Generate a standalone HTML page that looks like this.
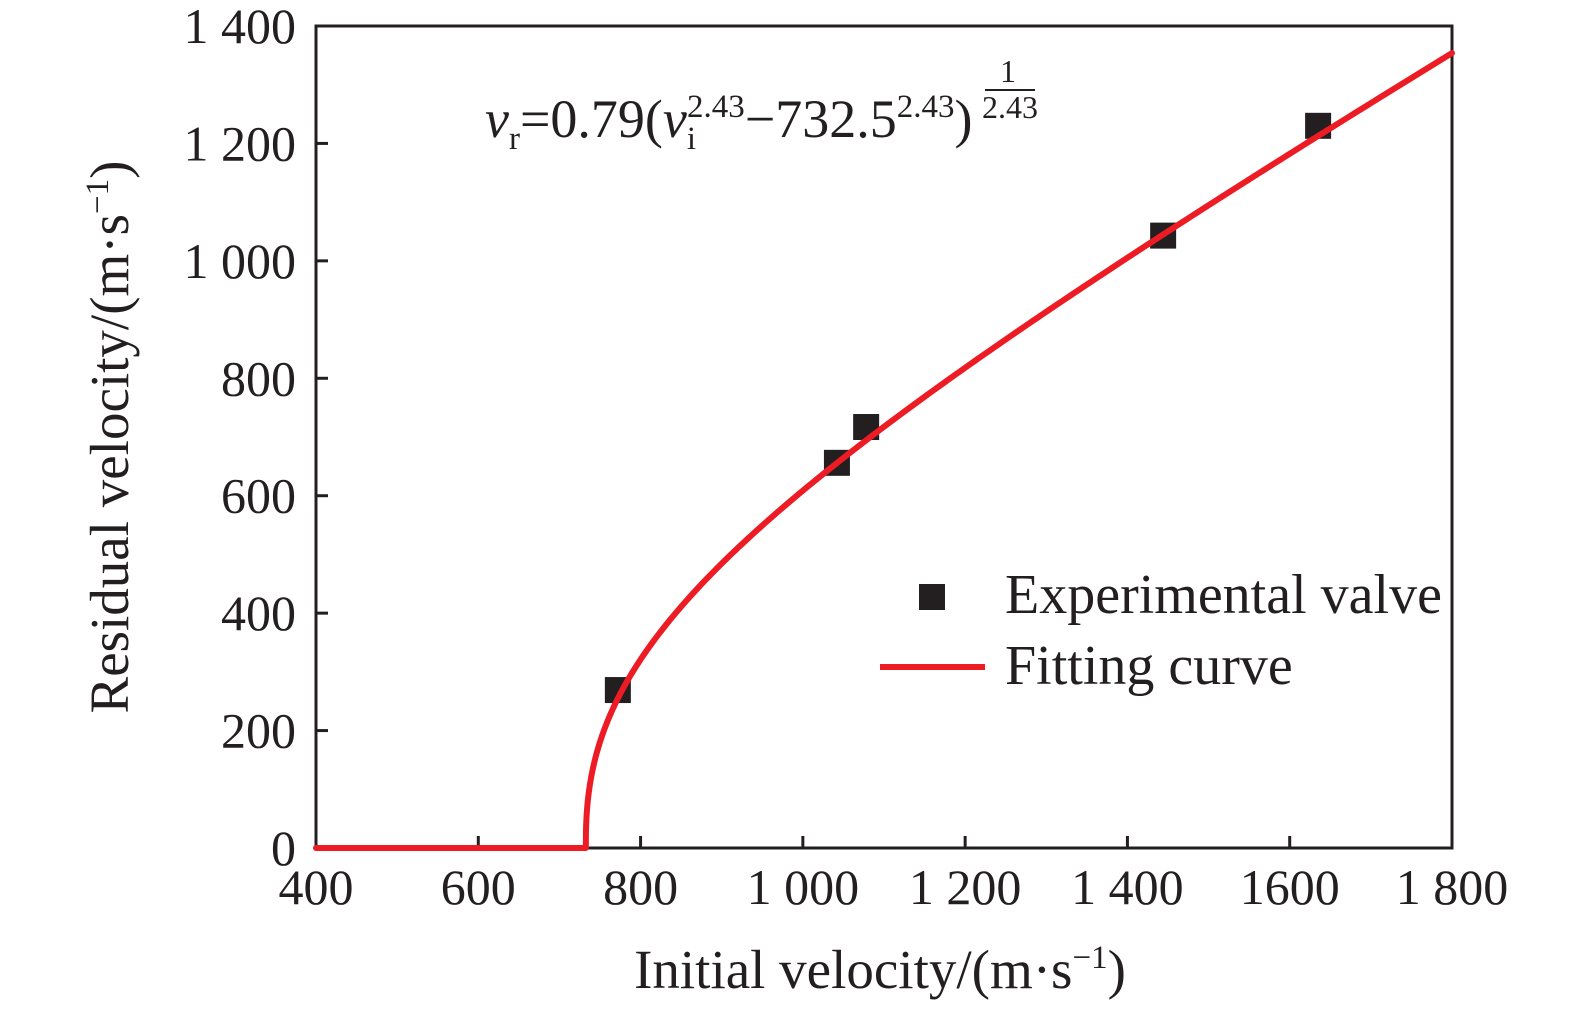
<!DOCTYPE html>
<html><head><meta charset="utf-8"><style>
html,body{margin:0;padding:0;background:#fff;}
svg{display:block;font-family:"Liberation Serif",serif;}
</style></head><body>
<svg id="chart" width="1575" height="1010" viewBox="0 0 1575 1010" xmlns="http://www.w3.org/2000/svg">
<g id="grid"></g>
<rect x="316" y="26" width="1136" height="822" fill="none" stroke="#231f20" stroke-width="3"/>
<g id="ticks"></g>
<g id="marks"></g>
<text x="485" y="137" font-size="54" fill="#231f20"><tspan font-style="italic">v</tspan><tspan font-size="33" dy="12">r</tspan><tspan dy="-12">=0.79(</tspan><tspan font-style="italic">v</tspan><tspan font-size="33" dy="12">i</tspan><tspan font-size="33" dx="-9" dy="-32">2.43</tspan><tspan dy="20">−732.5</tspan><tspan font-size="33" dy="-20">2.43</tspan><tspan dy="20">)</tspan></text>
<text x="1008" y="82" font-size="32" fill="#231f20" text-anchor="middle">1</text>
<line x1="985" y1="90" x2="1035" y2="90" stroke="#231f20" stroke-width="2"/>
<text x="1010" y="118" font-size="32" fill="#231f20" text-anchor="middle">2.43</text>
<text x="880" y="988" font-size="55" text-anchor="middle" fill="#231f20">Initial velocity/(m·s<tspan font-size="33" dy="-20">−1</tspan><tspan dy="20">)</tspan></text>
<text transform="translate(128,437) rotate(-90)" font-size="55" text-anchor="middle" fill="#231f20">Residual velocity/(m·s<tspan font-size="33" dy="-20">−1</tspan><tspan dy="20">)</tspan></text>
<g>
<rect x="919" y="584" width="26" height="26" fill="#231f20"/>
<text x="1005" y="613" font-size="56" fill="#231f20">Experimental valve</text>
<line x1="880" y1="667" x2="985" y2="667" stroke="#ed1c24" stroke-width="6"/>
<text x="1005" y="684" font-size="56" fill="#231f20">Fitting curve</text>
</g>
</svg>
<script>
const xTicks=[400,600,800,1000,1200,1400,1600,1800];
const xTickLabels=["400","600","800","1 000","1 200","1 400","1600","1 800"];
const yTicks=[0,200,400,600,800,1000,1200,1400];
const yTickLabels=["0","200","400","600","800","1 000","1 200","1 400"];
const expX=[772,1042,1078,1444,1635];
const expY=[269,656,717,1043,1230];
const fitA=[0.79];
const fitV0=[732.5];
const fitP=[2.43];
const NS="http://www.w3.org/2000/svg";
const X=v=>316+(v-400)*(1136/1400);
const Y=v=>848-v*(822/1400);
const ticks=document.getElementById('ticks'),marks=document.getElementById('marks');
function mk(t,a,p){const e=document.createElementNS(NS,t);for(const k in a)e.setAttribute(k,a[k]);p.appendChild(e);return e;}
xTicks.forEach((v,i)=>{
 const l=mk('line',{x1:X(v),x2:X(v),y1:848,y2:836,stroke:'#231f20','stroke-width':3},ticks);
 
 
 const t=mk('text',{x:X(v),y:904,'font-size':50,'text-anchor':'middle',fill:'#231f20'},ticks);
 t.textContent=xTickLabels[i];
 
 
});
yTicks.forEach((v,i)=>{
 const l=mk('line',{x1:316,x2:328,y1:Y(v),y2:Y(v),stroke:'#231f20','stroke-width':3},ticks);
 
 
 const t=mk('text',{x:296,y:Y(v)+17,'font-size':50,'text-anchor':'end',fill:'#231f20'},ticks);
 t.textContent=yTickLabels[i];
 
 
});
expX.forEach((v,i)=>{
 const r=mk('rect',{x:X(v)-13,y:Y(expY[i])-13,width:26,height:26,fill:'#231f20'},marks);
 
 
});
const a=fitA[0],v0=fitV0[0],p=fitP[0];
let pts=[];
for(let v=400;v<=1800;v+=(v>v0-2&&v<v0+60)?0.25:4){
 const y=v<=v0?0:a*Math.pow(Math.pow(v,p)-Math.pow(v0,p),1/p);
 pts.push(X(v).toFixed(2)+','+Y(y).toFixed(2));
}
pts.push(X(1800)+','+Y(a*Math.pow(Math.pow(1800,p)-Math.pow(v0,p),1/p)));
const pl=mk('polyline',{points:pts.join(' '),fill:'none',stroke:'#ed1c24','stroke-width':6,'stroke-linejoin':'round','stroke-linecap':'round'},marks);


</script>
</body></html>
